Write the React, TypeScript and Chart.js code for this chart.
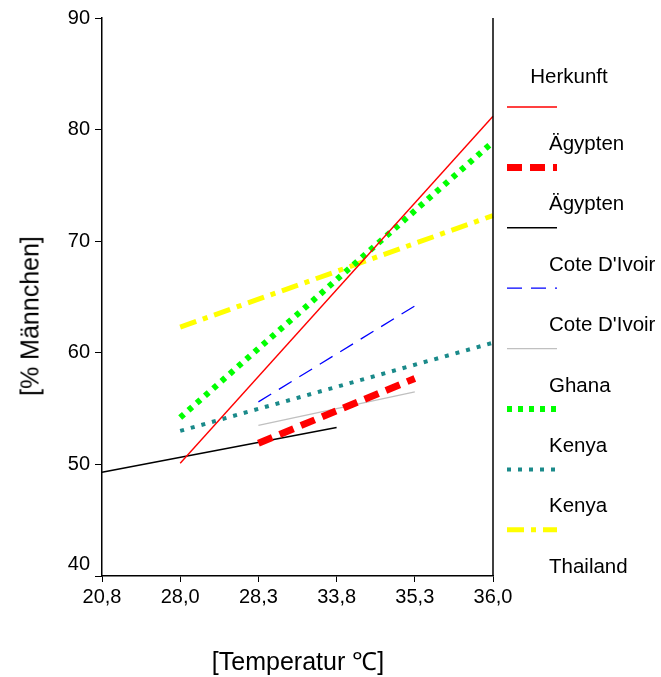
import React, { useEffect, useRef } from "react";
import { Chart, registerables } from "chart.js";

Chart.register(...registerables);

const categories = ["20,8", "28,0", "28,3", "33,8", "35,3", "36,0"];
const yTickValues = [40, 50, 60, 70, 80, 90];

const aegyptenA = [null, 50.1, null, null, null, 81.2];
const aegyptenB = [null, null, 51.9, null, 57.7, null];
const coteA = [49.3, null, null, 53.3, null, null];
const coteB = [null, null, 55.6, null, 64.2, null];
const ghanaA = [null, null, 53.5, null, 56.5, null];
const ghanaB = [null, 54.2, null, null, null, 78.9];
const kenyaA = [null, 53.0, null, null, null, 60.9];
const kenyaB = [null, 62.3, null, null, null, 72.3];

const legendTitle = "Herkunft";
const legendLabels = ["Ägypten", "Ägypten", "Cote D'Ivoir", "Cote D'Ivoir", "Ghana", "Kenya", "Kenya", "Thailand"];

const FONT = "'Liberation Sans', Arial, Helvetica, sans-serif";

const styles = [
  { color: "#ff0000", width: 1.4, dash: [] as number[] },
  { color: "#ff0000", width: 7, dash: [15, 8] },
  { color: "#000000", width: 1.5, dash: [] as number[] },
  { color: "#0000ff", width: 1.3, dash: [15, 9] },
  { color: "#c0c0c0", width: 1.3, dash: [] as number[] },
  { color: "#00ff00", width: 6, dash: [5, 6] },
  { color: "#1a8a8a", width: 4, dash: [4, 7] },
  { color: "#ffff00", width: 5, dash: [17, 7, 5, 7] },
];

const seriesData = [aegyptenA, aegyptenB, coteA, coteB, ghanaA, ghanaB, kenyaA, kenyaB];

const extras = {
  id: "extras",
  afterDraw(chart: any) {
    const { ctx, chartArea, scales } = chart;
    ctx.save();
    ctx.strokeStyle = "#000";
    ctx.lineWidth = 1.5;
    ctx.beginPath();
    ctx.moveTo(chartArea.right, chartArea.top);
    ctx.lineTo(chartArea.right, chartArea.bottom);
    ctx.stroke();
    // lowest y tick label is lifted above the x axis, as in the original
    const v = yTickValues[0];
    ctx.fillStyle = "#000";
    ctx.font = `20px ${FONT}`;
    ctx.textAlign = "right";
    ctx.textBaseline = "middle";
    ctx.fillText(String(v), chartArea.left - 12, scales.y.getPixelForValue(v) - 12);
    ctx.restore();
  },
};

export default function App() {
  const canvasRef = useRef<HTMLCanvasElement | null>(null);

  useEffect(() => {
    if (!canvasRef.current) return;
    const chart = new Chart(canvasRef.current, {
      type: "line",
      data: {
        labels: categories,
        datasets: seriesData.map((d, i) => ({
          label: legendLabels[i],
          data: d,
          borderColor: styles[i].color,
          backgroundColor: styles[i].color,
          borderWidth: styles[i].width,
          borderDash: styles[i].dash,
          borderCapStyle: "butt",
          pointRadius: 0,
          spanGaps: true,
          tension: 0,
          fill: false,
        })),
      },
      options: {
        animation: false,
        responsive: false,
        maintainAspectRatio: false,
        layout: { padding: { top: 18, right: 168, left: 0, bottom: 0 } },
        plugins: { legend: { display: false }, tooltip: { enabled: false } },
        scales: {
          x: {
            type: "category",
            offset: false,
            grid: { display: true, drawOnChartArea: false, drawTicks: true, tickLength: 6, color: "#000" },
            border: { display: true, color: "#000", width: 1.5 },
            ticks: { color: "#000", font: { family: FONT, size: 20 }, padding: 3, maxRotation: 0, autoSkip: false },
            afterFit(scale: any) {
              scale.height = 101;
            },
          },
          y: {
            min: 40,
            max: 90,
            afterBuildTicks(scale: any) {
              scale.ticks = yTickValues.map((v) => ({ value: v }));
            },
            grid: { display: true, drawOnChartArea: false, drawTicks: true, tickLength: 7, color: "#000" },
            border: { display: true, color: "#000", width: 1.5 },
            ticks: {
              color: "#000",
              font: { family: FONT, size: 20 },
              padding: 5,
              callback: (value: any) => (value === yTickValues[0] ? "" : String(value)),
            },
            afterFit(scale: any) {
              scale.width = 102;
            },
          },
        },
      },
      plugins: [extras],
    });
    return () => chart.destroy();
  }, []);

  const legendX = 507;
  const lineY0 = 107;
  const step = 60.4;

  return (
    <div style={{ position: "fixed", left: 0, top: 0, width: 661, height: 677, background: "#fff", fontFamily: FONT }}>
      <canvas ref={canvasRef} width={661} height={677} style={{ position: "absolute", left: 0, top: 0 }} />
      <div
        style={{
          position: "absolute",
          left: 30,
          top: 316,
          transform: "translate(-50%, -50%) rotate(-90deg)",
          fontSize: 25,
          whiteSpace: "nowrap",
          color: "#000",
          lineHeight: 1,
        }}
      >
        [% Männchen]
      </div>
      <div
        style={{
          position: "absolute",
          left: 298,
          top: 661,
          transform: "translate(-50%, -50%)",
          fontSize: 25,
          whiteSpace: "nowrap",
          color: "#000",
          lineHeight: 1,
        }}
      >
        [Temperatur ℃]
      </div>
      <div
        style={{
          position: "absolute",
          left: 569,
          top: 76,
          transform: "translate(-50%, -50%)",
          fontSize: 20.5,
          whiteSpace: "nowrap",
          color: "#000",
          lineHeight: 1,
        }}
      >
        {legendTitle}
      </div>
      <svg width={661} height={677} style={{ position: "absolute", left: 0, top: 0 }}>
        {styles.map((s, i) => (
          <line
            key={i}
            x1={legendX}
            x2={legendX + 50}
            y1={lineY0 + i * step}
            y2={lineY0 + i * step}
            stroke={s.color}
            strokeWidth={s.width}
            strokeDasharray={s.dash.length ? s.dash.join(",") : undefined}
          />
        ))}
      </svg>
      {legendLabels.map((l, i) => (
        <div
          key={i}
          style={{
            position: "absolute",
            left: 549,
            top: lineY0 + 36 + i * step,
            transform: "translateY(-50%)",
            fontSize: 20.5,
            whiteSpace: "nowrap",
            color: "#000",
            lineHeight: 1,
          }}
        >
          {l}
        </div>
      ))}
    </div>
  );
}
